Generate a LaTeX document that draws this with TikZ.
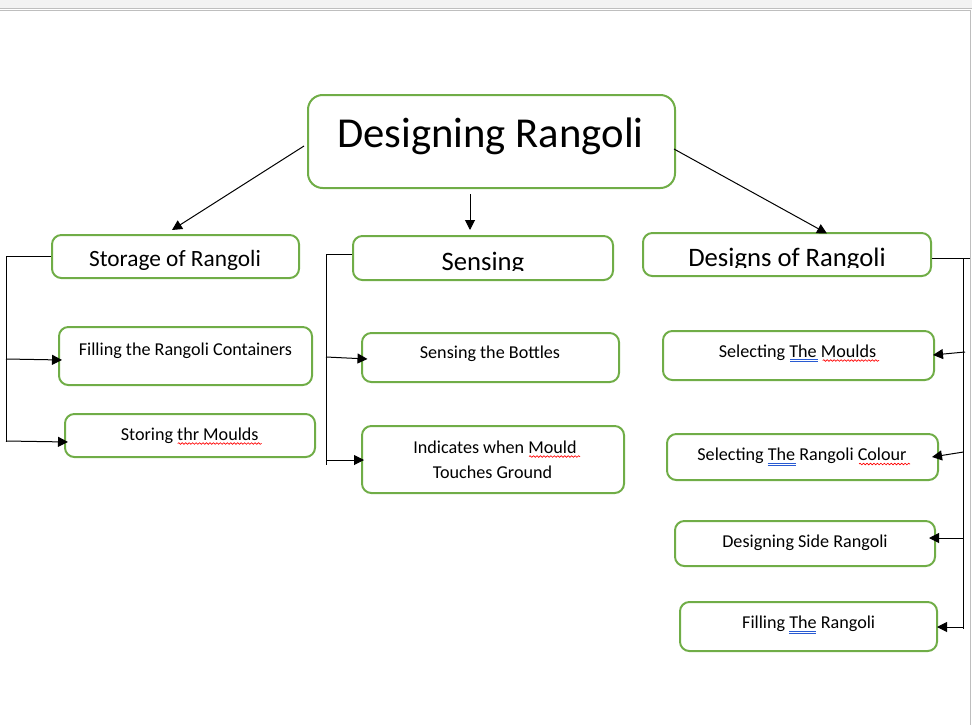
\documentclass[tikz,border=0pt]{standalone}
\usepackage{fontspec}
\setmainfont{Carlito}
\usepackage{xcolor}
\definecolor{rgreen}{RGB}{112,173,71}
\definecolor{rgray}{RGB}{190,190,190}
\definecolor{rbar}{RGB}{242,242,242}
\definecolor{rblue}{RGB}{40,90,210}
\usetikzlibrary{arrows.meta, calc, decorations.pathmorphing}

\tikzset{
  rbox/.style={draw=rgreen, line width=1.5pt, rounded corners=7pt, inner sep=0pt},
  conn/.style={line width=0.75pt, black},
  arr/.style={conn, -{Triangle[length=7.5pt,width=7.5pt]}},
  txs/.style={font=\fontsize{13.6}{16}\selectfont, anchor=base, inner sep=0pt},
  txm/.style={font=\fontsize{17.5}{21}\selectfont, anchor=base, inner sep=0pt},
  txh/.style={font=\fontsize{20}{24}\selectfont, anchor=base, inner sep=0pt},
  spell/.style={red, line width=0.5pt, decorate, decoration={snake, amplitude=0.6pt, segment length=2.6pt}},
  gramm/.style={rblue, line width=0.5pt}
}

\begin{document}
\begin{tikzpicture}[x=0.75pt, y=-0.75pt]
  \useasboundingbox (0,0) rectangle (972,725);
  % Window frame
  \fill[rbar] (0,0) rectangle (972,7.5);
  \draw[rgray, line width=0.75pt] (0,8) -- (972,8);
  \draw[rgray, line width=0.75pt] (0,10.5) -- (970.5,10.5) -- (970.5,725);

  % --- Main node ---
  \node[rbox, minimum width=275.25pt, minimum height=69.75pt, rounded corners=11pt] (title) at (491.5,141.5) {};
  \node[anchor=base, inner sep=0pt, font=\fontsize{32}{38}\selectfont] (titleT) at (490.5,147) {Designing Rangoli};

  % --- Second level ---
  \node[rbox, minimum width=185.25pt, minimum height=32.25pt] (store) at (175.5,256.5) {};
  \node[txm] (storeT) at (175,266) {Storage of Rangoli};
  \node[rbox, minimum width=195pt, minimum height=33pt] (sense) at (483,258) {};
  \begin{scope}
    \clip (353,236) rectangle (613,270.5);
    \node[txh] (senseT) at (483,270) {Sensing};
  \end{scope}
  \node[rbox, minimum width=216pt, minimum height=32.25pt] (design) at (787,254.5) {};
  \begin{scope}
    \clip (643,233) rectangle (931,267);
    \node[txh] (designT) at (787,266.5) {Designs of Rangoli};
  \end{scope}

  % --- Storage branch ---
  \node[rbox, minimum width=189.75pt, minimum height=43.5pt] (fill) at (185.5,356) {};
  \node[txs] (fillT) at (185.5,355) {Filling the Rangoli Containers};
  \node[rbox, minimum width=187.5pt, minimum height=32.25pt] (mould) at (190,435.5) {};
  \node[txs] (mouldT) at (189.7,440) {Storing thr Moulds};

  % --- Sensing branch ---
  \node[rbox, minimum width=192.75pt, minimum height=36.75pt] (bottle) at (490.5,357.5) {};
  \node[txs] (bottleT) at (490,358.3) {Sensing the Bottles};
  \node[rbox, minimum width=196.5pt, minimum height=50.25pt] (ground) at (493,459.5) {};
  \node[txs] (groundA) at (495,453.3) {Indicates when Mould};
  \node[txs] (groundB) at (492.5,478.3) {Touches Ground};

  % --- Designs branch ---
  \node[rbox, minimum width=203.25pt, minimum height=36.75pt] (selm) at (798.5,355.5) {};
  \node[txs] (selmT) at (797.5,357.3) {Selecting The Moulds};
  \node[rbox, minimum width=203.25pt, minimum height=34.5pt] (selc) at (802.5,457) {};
  \node[txs] (selcT) at (802,460.7) {Selecting The Rangoli Colour};
  \node[rbox, minimum width=195pt, minimum height=33.75pt] (side) at (805,543.5) {};
  \node[txs] (sideT) at (805,547.3) {Designing Side Rangoli};
  \node[rbox, minimum width=192.75pt, minimum height=36.75pt] (fillr) at (808.5,626.5) {};
  \node[txs] (fillrT) at (808.7,628.3) {Filling The Rangoli};

  % Arrows from main node
  \draw[arr] ([shift={(-3,4.5)}]title.west) -- ([shift={(-3.5,-4)}]store.north);
  \draw[arr] ([shift={(-21.5,5)}]title.south) -- ([shift={(-13,-5)}]sense.north);
  \draw[arr] ([shift={(-2,7.5)}]title.east) -- ([shift={(40,1.5)}]design.north);

  % Left bracket
  \coordinate (sBot) at (6,442);
  \coordinate (sF) at (6,359);
  \coordinate (sM) at (6,441);
  \draw[conn] (store.west) -| (sBot);
  \draw[arr] (sF) -- ([shift={(4,4)}]fill.west);
  \draw[arr] (sM) -- ([shift={(4,6.5)}]mould.west);

  % Middle bracket
  \coordinate (nBot) at (326,465);
  \coordinate (nB) at (326,357);
  \coordinate (nG) at (326,460);
  \draw[conn] ([shift={(0,-4)}]sense.west) -| (nBot);
  \draw[arr] (nB) -- ([shift={(6.5,1.5)}]bottle.west);
  \draw[arr] (nG) -- ([shift={(3,0.5)}]ground.west);

  % Right bracket
  \coordinate (dR) at (970,258);
  \coordinate (dTop) at (963.5,258);
  \coordinate (dBot) at (963.5,629);
  \coordinate (dM) at (965,352);
  \coordinate (dC) at (963.5,452);
  \coordinate (dS) at (963.5,538);
  \coordinate (dF) at (963.5,627);
  \draw[conn] ([shift={(0,3.5)}]design.east) -- (dR);
  \draw[conn] (dTop) -- (dBot);
  \draw[arr] (dM) -- ([shift={(-2,-0.5)}]selm.east);
  \draw[arr] (dC) -- ([shift={(-7,0)}]selc.east);
  \draw[arr] (dS) -- ([shift={(-7,-5.5)}]side.east);
  \draw[arr] (dF) -- ([shift={(-1,0.5)}]fillr.east);

  % Proofing marks
  \draw[spell] (177.7,443.5) -- (261.7,443.5);
  \draw[spell] (529,456.5) -- (580,456.5);
  \draw[spell] (822.7,360.5) -- (879,360.5);
  \draw[spell] (859,464) -- (910,464);
  \foreach \ux/\uy/\uw in {790/359.5/28, 767.7/463/28.3, 789/631/27} {
    \draw[gramm] (\ux,\uy) -- ++(\uw,0);
    \draw[gramm] (\ux,\uy+2) -- ++(\uw,0);
  }
\end{tikzpicture}
\end{document}
